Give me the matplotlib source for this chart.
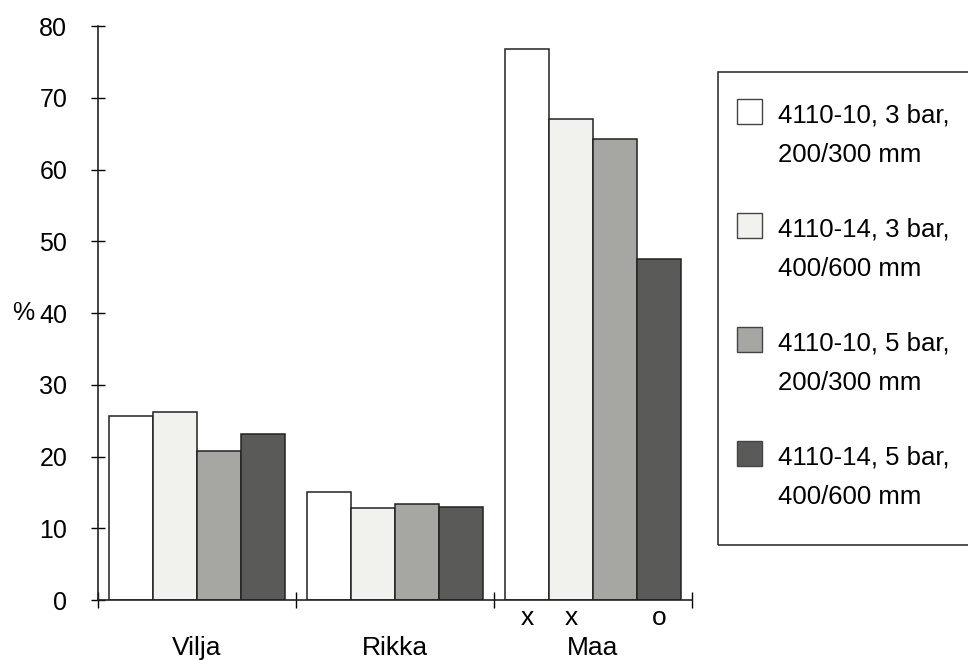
import numpy as np
import matplotlib.pyplot as plt
from matplotlib.patches import Rectangle

plt.rcParams['font.family'] = ['Liberation Sans', 'DejaVu Sans']

groups = ['Vilja', 'Rikka', 'Maa']
series = ['4110-10, 3 bar,\n200/300 mm', '4110-14, 3 bar,\n400/600 mm',
          '4110-10, 5 bar,\n200/300 mm', '4110-14, 5 bar,\n400/600 mm']
values = [
    [25.6, 15.1, 76.8],
    [26.2, 12.8, 67.1],
    [20.8, 13.4, 64.2],
    [23.2, 13.0, 47.5],
]
maa_marks = ['x', 'x', '', 'o']
colors = ['#ffffff', '#f1f1ee', '#a6a6a3', '#5a5a58']

fig = plt.figure(figsize=(9.68, 6.6), dpi=100)
ax = fig.add_axes([0.101, 0.0909, 0.614, 0.8697])

x = np.arange(len(groups))
w = 0.222
for i, vals in enumerate(values):
    ax.bar(x + (i - 1.5) * w, vals, w, color=colors[i], edgecolor='#222222', linewidth=1.1)

ax.set_ylim(0, 80)
ax.set_xlim(-0.5, 2.5)
ax.set_yticks(range(0, 81, 10))
ax.set_xticks([-0.5, 0.5, 1.5, 2.5])
ax.set_xticklabels([])
ax.tick_params(axis='y', direction='inout', length=10, width=1, labelsize=18, pad=17)
ax.tick_params(axis='x', direction='inout', length=11, width=1)
for s in ['top', 'right']:
    ax.spines[s].set_visible(False)
for s in ['left', 'bottom']:
    ax.spines[s].set_linewidth(1.2)
    ax.spines[s].set_color('#222222')

for xi, g in zip(x, groups):
    ax.text(xi, -7.7, g, ha='center', va='baseline', fontsize=19, clip_on=False)
for i, m in enumerate(maa_marks):
    if m:
        ax.text(2 + (i - 1.5) * w, -3.5, m, ha='center', va='baseline', fontsize=19, clip_on=False)

W, H = 968, 660
fig.text(34 / W, 1 - 313 / H, '%', ha='right', va='center', fontsize=18)

# legend box drawn by hand
fig.patches.append(Rectangle((718 / W, 1 - 545 / H), 260 / W, 473 / H, transform=fig.transFigure,
                             facecolor='none', edgecolor='#222222', linewidth=1.1))
for i, lab in enumerate(series):
    y1 = 115 + i * 114
    fig.patches.append(Rectangle((737 / W, 1 - (y1 + 9) / H), 25 / W, 25 / H, transform=fig.transFigure,
                                 facecolor=colors[i], edgecolor='#444444', linewidth=1))
    l1, l2 = lab.split('\n')
    fig.text(778 / W, 1 - y1 / H, l1, ha='left', va='center', fontsize=18.5)
    fig.text(778 / W, 1 - (y1 + 40) / H, l2, ha='left', va='center', fontsize=18.5)

fig.savefig('out.png', dpi=100)
